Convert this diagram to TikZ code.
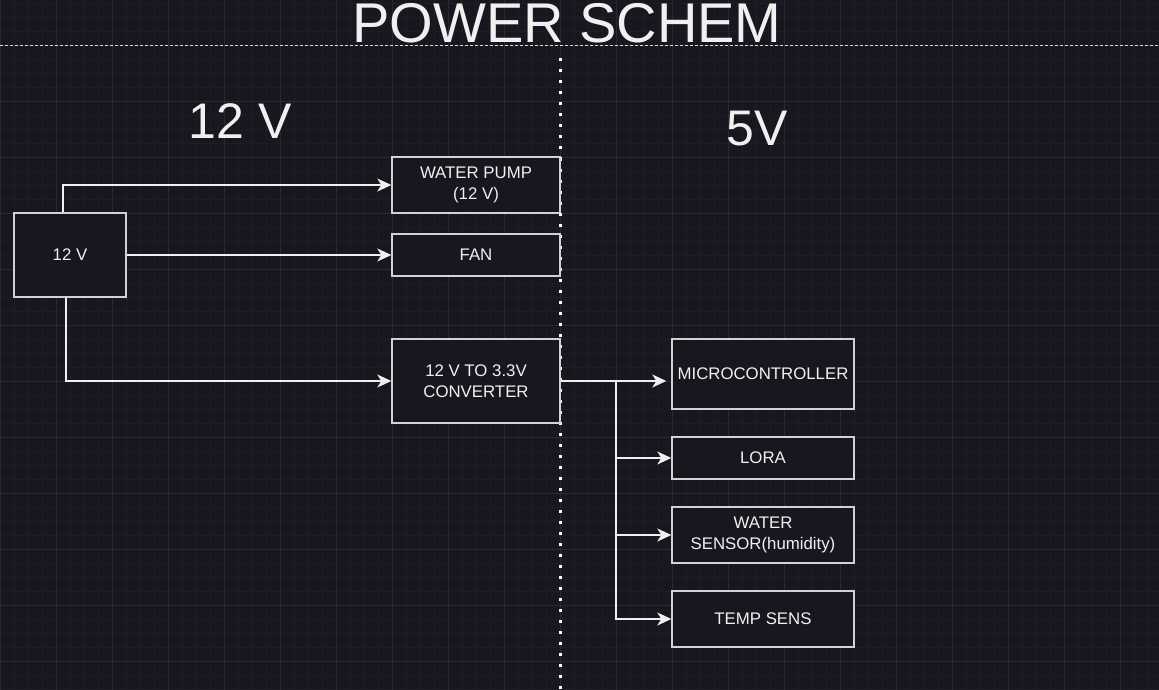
\documentclass[tikz,border=0pt]{standalone}
\usepackage{fontspec}
\setmainfont{Liberation Sans}
\usetikzlibrary{arrows.meta}

\definecolor{bgcol}{HTML}{18161E}
\definecolor{minorcol}{HTML}{1E1C25}
\definecolor{majorcol}{HTML}{2A2831}
\definecolor{edgecol}{HTML}{D2D2D2}
\definecolor{txtcol}{HTML}{F0F0F0}

\tikzset{
    blockbox/.style={draw=edgecol, fill=bgcol, line width=1.4pt, inner sep=0pt,
        text=txtcol, align=center, font=\fontsize{16.8}{21}\selectfont},
    wire/.style={draw=txtcol, line width=1.4pt,
        -{Stealth[length=14pt, width=13pt, inset=4pt]}},
    bigtext/.style={text=txtcol, anchor=base, font=\fontsize{50}{60}\selectfont},
}

\begin{document}
\begin{tikzpicture}[x=1pt, y=-1pt]
        % Background and grid
        \fill[bgcol] (0,0) rectangle (1159,690);
        \useasboundingbox (0,0) rectangle (1159,690);
        \foreach \gx in {0,14,...,1159} \draw[minorcol, line width=0.7pt] (\gx,0) -- (\gx,690);
        \foreach \gy in {3,17,...,690} \draw[minorcol, line width=0.7pt] (0,\gy) -- (1159,\gy);
        \foreach \gx in {0,56,...,1159} \draw[majorcol, line width=0.9pt] (\gx,0) -- (\gx,690);
        \foreach \gy in {45,101,...,690} \draw[majorcol, line width=0.9pt] (0,\gy) -- (1159,\gy);

        % Title and separators
        \node[text=txtcol, anchor=base, font=\fontsize{56}{66}\selectfont] (title) at (567,43) {POWER SCHEM};
        \draw[edgecol!80, line width=0.9pt, dash pattern=on 3pt off 2pt] (0,45) -- (1159,45);
        \draw[white, line width=3pt, dash pattern=on 3pt off 8pt] (560,58.5) -- (560,690);

        % Voltage zones
        \node[bigtext] (zoneA) at (240,139) {12 V};
        \node[bigtext] (zoneB) at (757,146) {5V};

        % 12 V side
        \node[blockbox, minimum width=112pt, minimum height=84pt] (src) at (70,255) {12 V};
        \node[blockbox, minimum width=168pt, minimum height=56pt] (pump) at (476,185) {WATER PUMP\\(12 V)};
        \node[blockbox, minimum width=168pt, minimum height=42pt] (fan) at (476,255) {FAN};
        \node[blockbox, minimum width=168pt, minimum height=84pt] (conv) at (476,381) {12 V TO 3.3V\\CONVERTER};

        % 5 V side
        \node[blockbox, minimum width=182pt, minimum height=70pt] (micro) at (763,374) {MICROCONTROLLER};
        \node[blockbox, minimum width=182pt, minimum height=42pt] (lora) at (763,458) {LORA};
        \node[blockbox, minimum width=182pt, minimum height=56pt] (wsens) at (763,535) {WATER\\SENSOR(humidity)};
        \node[blockbox, minimum width=182pt, minimum height=56pt] (temp) at (763,619) {TEMP SENS};

        % Connections
        \draw[wire] ([xshift=-7pt]src.north) |- (pump.west);
        \draw[wire] (src.east) -- (fan.west);
        \draw[wire] ([xshift=-4pt]src.south) |- (conv.west);

        \coordinate (split) at (616,381);
        \draw[wire] (conv.east) -- (split) -- ([xshift=-5pt]split -| micro.west);
        \draw[wire] (split) |- (lora.west);
        \draw[wire] (split) |- (wsens.west);
        \draw[wire] (split) |- (temp.west);
\end{tikzpicture}
\end{document}
